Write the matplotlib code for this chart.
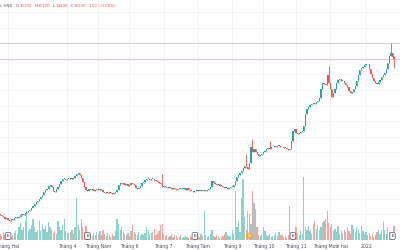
import matplotlib
matplotlib.use("Agg")
import matplotlib.pyplot as plt
import matplotlib.transforms as mtransforms
import numpy as np
import pandas as pd

# ── data (daily, VND) ───────────────────────────────────────────────────────
closes = [
    4950, 4850, 4800, 4700, 4750, 4600, 4550, 4700, 4600, 4750,
    4800, 4750, 4800, 4950, 5000, 4950, 5050, 5150, 5200, 5250,
    5400, 5500, 5650, 5800, 5850, 5950, 6100, 6250, 6400, 6550,
    6600, 6800, 6850, 6750, 6500, 6400, 6600, 6750, 6950, 7150,
    7250, 7250, 7200, 7250,
    7250, 7300, 7250, 7300, 7450, 7600, 7650,
    7500, 7300, 7050, 6750, 6550, 6500, 6600, 6550, 6600, 6500,
    6550, 6600, 6550, 6600, 6550, 6400, 6350, 6400, 6350, 6400,
    6350, 6300, 6350, 6400, 6550, 6850, 7000, 6950, 7000, 6850,
    6950, 6800, 6850, 7000, 6950, 6850, 6700, 6600, 6700, 6800,
    7000, 7050, 7200, 7250, 7250, 7200, 7250,
    7250, 7200, 7150, 7050,
    7000, 6950, 6750, 6800, 6750, 6700, 6750, 6700, 6600, 6700,
    6600, 6550, 6600, 6700, 6600, 6600, 6650,
    6550, 6700, 6550, 6500,
    6500, 6400, 6500, 6550, 6500, 6500, 6550, 6500, 6550, 6500,
    6550, 6600, 6750, 7150, 7000, 6950, 6850, 6950, 6800, 6800,
    6750, 6700, 6700, 6600, 6650,
    6750, 6750, 6850, 7150, 7400, 7500,
    7650, 7800, 7950, 8100, 8050, 7900, 8300, 9350, 9000, 9200,
    9000, 8850, 8750, 8800, 8850, 9000, 9050, 9200, 9250, 9200,
    9300, 9300, 9400, 9300, 9400, 9400, 9350,
    9300, 9250, 9250, 9200,
    9150, 9200, 9700, 10350, 10500, 10250, 10150, 10250, 10300, 10350,
    10700, 11450, 11800, 11900, 12050, 12100, 12150, 12100, 12250, 12300,
    12500, 13050, 13450, 13400, 13300, 13950, 13450, 13050, 12550, 12800,
    13050, 13450, 13650, 13700, 13600, 13600, 13450, 13300, 13200, 12950,
    12800, 12850, 13050, 13250, 13600, 13950, 14300, 14400, 14500, 14600,
    14700, 14650, 14350, 14050, 13750, 13600, 13450, 13400, 13500, 13650,
    13850, 13950, 14100, 14350, 14750, 15200, 15400, 15100, 15000,
]
first_open = 5000

# volume, thousand shares
volumes = [
    300, 200, 400, 250, 150, 200, 300, 150, 250, 350,
    450, 300, 600, 800, 500, 600, 900, 1400, 450, 550,
    700, 1000, 600, 400, 500, 900, 450, 750, 550, 650,
    400, 850, 600, 500, 350, 450, 300, 900, 600, 500,
    700, 1000, 450, 350,
    350, 400, 500, 300, 600, 2000, 700,
    500, 1000, 600, 400, 650, 350, 250, 300, 200, 350,
    250, 400, 300, 450, 250, 500, 300, 200, 350, 250,
    150, 300, 200, 450, 1000, 750, 500, 600, 400, 300,
    250, 350, 200, 450, 700, 400, 300, 250, 400, 200,
    300, 250, 350, 600, 500, 300, 350,
    400, 550, 250, 350,
    450, 700, 750, 300, 200, 250, 150, 200, 300, 150,
    250, 200, 100, 150, 250, 100, 150,
    200, 150, 100, 200,
    150, 100, 150, 100, 200, 150, 300, 200, 1400, 250,
    150, 200, 300, 500, 200, 150, 250, 200, 100, 150,
    200, 300, 400, 250, 200,
    200, 500, 300, 2350, 600, 900,
    400, 2000, 2900, 1100, 500, 1400, 1250, 750, 2350, 1750,
    1500, 600, 250, 200, 300, 600, 450, 250, 200, 300,
    150, 200, 250, 350, 200, 400, 250,
    250, 150, 200, 100,
    250, 1650, 400, 200, 300, 600, 350, 250, 450, 300,
    3000, 600, 500, 650, 450, 300, 750, 900, 550, 700,
    500, 600, 800, 900, 1000, 1400, 800, 600, 750, 450,
    550, 400, 650, 300, 450, 350, 500, 400, 600, 450,
    300, 700, 550, 400, 600, 500, 350, 650, 450, 300,
    400, 250, 350, 200, 300, 150, 250, 400, 500, 300,
    450, 900, 500, 300, 600, 400, 250, 350, 650,
]

# candles with visible wicks
wick_idx = [104, 158, 162, 173, 211, 251]
wick_high = [7600, 8850, 9850, 9700, 14550, 16000]
low_idx = [253]
low_val = [14400]

# corporate events (bar index)
earnings_idx = [5, 56, 125, 188, 252]
split_idx = [160]

holidays = ["2021-02-10", "2021-02-11", "2021-02-12", "2021-02-15",
            "2021-02-16", "2021-04-21", "2021-04-30", "2021-05-03",
            "2021-09-02", "2021-09-03", "2022-01-03"]

month_names = {2: "Tháng Hai", 4: "Tháng 4", 5: "Tháng Năm", 6: "Tháng 6",
               7: "Tháng 7", 8: "Tháng Tám", 9: "Tháng 9", 10: "Tháng 10",
               11: "Tháng 11", 12: "Tháng Mười hai", 1: "2022"}

# ── colours ─────────────────────────────────────────────────────────────────
UP, DOWN = "#26a69a", "#ef5350"
UP_V, DOWN_V = "#8ed1ca", "#f5a3a1"
GRID = "#f0f3fa"
TXT = "#4b4f5a"

n = len(closes)
dates = pd.bdate_range("2021-01-25", periods=n, freq="C", holidays=holidays)
x = np.arange(n)
c = np.array(closes, dtype=float)
o = np.concatenate([[first_open], c[:-1]])
hi = np.maximum(o, c)
lo = np.minimum(o, c)
hi[wick_idx] = wick_high
lo[low_idx] = low_val
up = c >= o

fig = plt.figure(figsize=(4, 2.5), dpi=100)
fig.patch.set_facecolor("white")
rect = [0, 10 / 250, 1, 240 / 250]
ax_v = fig.add_axes(rect)
ax = fig.add_axes(rect, sharex=ax_v)
ax.patch.set_visible(False)
for a in (ax, ax_v):
    a.axis("off")

ax.set_xlim(-0.2, 256.8)
ax.set_ylim(3325, 18805)
ax_v.set_ylim(0, 11500)

# grid (drawn on the lower axes so it sits behind everything)
blend = mtransforms.blended_transform_factory(ax_v.transAxes, ax.transData)
for p in range(4000, 18001, 1000):
    ax_v.plot([0, 1], [p, p], color=GRID, lw=0.6, transform=blend, zorder=0)

month_idx = [j for j in range(1, n)
             if dates[j].month != dates[j - 1].month and dates[j].month in month_names]
for j in month_idx:
    ax_v.axvline(j, color=GRID, lw=0.6, zorder=0)

# volume
ax_v.bar(x, volumes, width=0.8, color=np.where(up, UP_V, DOWN_V),
         linewidth=0, zorder=1)

# candles
cols = np.where(up, UP, DOWN)
ax.vlines(x, lo, hi, colors=cols, lw=0.6, zorder=3)
body = np.maximum(np.abs(c - o), 50)
ax.bar(x, body, bottom=np.minimum(o, c), width=0.78, color=cols,
       linewidth=0, zorder=4)

# horizontal lines
ax.axhline(16000, color="#d1d4dc", lw=0.7, zorder=2)
ax.axhline(closes[-1], color=DOWN, lw=0.6, alpha=0.35, zorder=2)

# time axis labels
tb = mtransforms.blended_transform_factory(ax.transData, ax.transAxes)
for j in month_idx:
    ax.text(j, -6 / 240, month_names[dates[j].month], transform=tb,
            ha="center", va="center", fontsize=3.3, color=TXT, clip_on=False)

# event markers
for j in earnings_idx:
    ax.text(j, 4 / 240, "E", transform=tb, ha="center", va="center",
            fontsize=3, color="#131722", zorder=6,
            bbox=dict(boxstyle="round,pad=0.35", fc="white", ec="#6a6d78", lw=0.6))
for j in split_idx:
    ax.text(j, 4 / 240, "S", transform=tb, ha="center", va="center",
            fontsize=3, color="white", zorder=6,
            bbox=dict(boxstyle="circle,pad=0.25", fc="#f6b352", ec="#f0a030", lw=0.6))

# legend line (OHLC), laid out piece by piece
chg = closes[-1] - closes[-2]
pct = chg / closes[-2] * 100
hdr = [("D, HNX", TXT, 3.5), ("O", TXT, 0.4), (f"{o[-1]:.0f}", DOWN, 2.5),
       ("H", TXT, 0.4), (f"{hi[-1]:.0f}", DOWN, 2.5), ("L", TXT, 0.4),
       (f"{lo[-1]:.0f}", DOWN, 2.5), ("C", TXT, 0.4), (f"{c[-1]:.0f}", DOWN, 2.5),
       (f"{chg:.0f} ({pct:.2f}%)", DOWN, 0)]
renderer = fig.canvas.get_renderer()
px = -2.0
for s, col, gap in hdr:
    t = fig.text(px / 400, 1 - 6 / 250, s, ha="left", va="center",
                 fontsize=2.9, color=col)
    px += t.get_window_extent(renderer).width + gap

fig.savefig("out.png", dpi=100, facecolor="white")
